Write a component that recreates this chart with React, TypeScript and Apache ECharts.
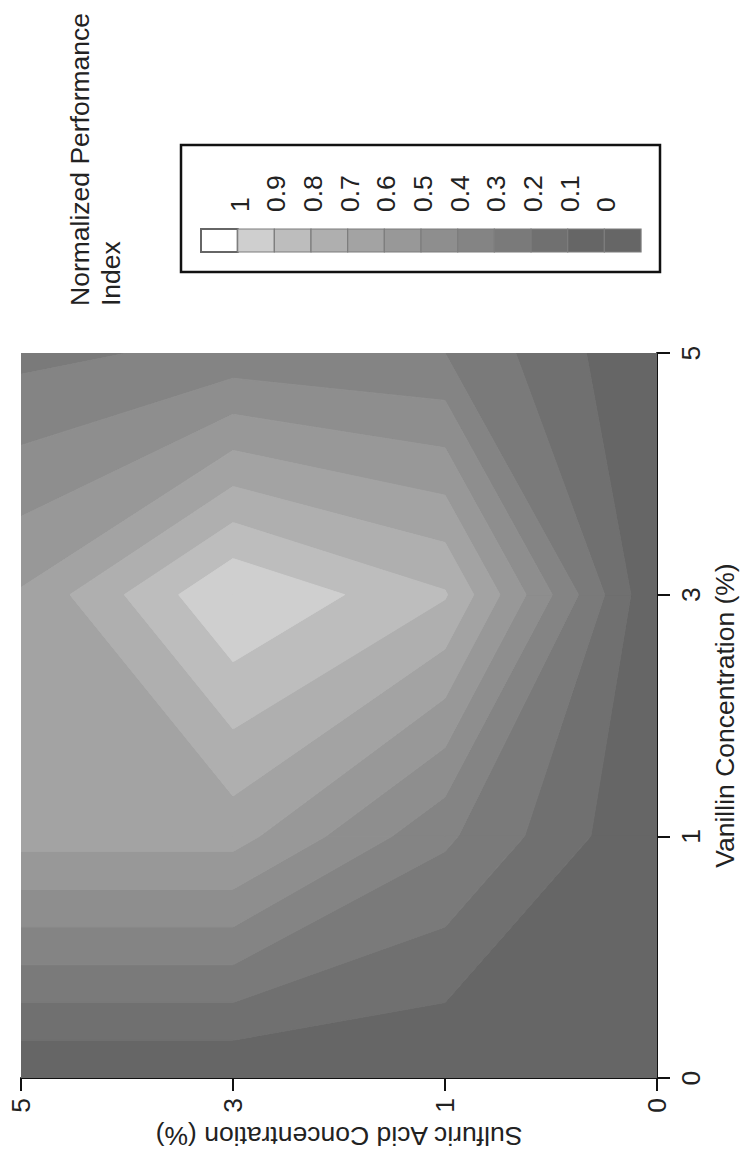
import React, { useEffect, useRef } from "react";
import * as echarts from "echarts";

// Axis tick labels (category levels, equally spaced on the chart)
const sulfuricTicks = ["0", "1", "3", "5"];
const vanillinTicks = ["0", "1", "3", "5"];

// Normalized performance index, one row per vanillin level,
// values ordered by sulfuric acid level 0, 1, 3, 5 %
const perfVanillin0 = [0.0, 0.0, 0.0, 0.0];
const perfVanillin1 = [0.0, 0.32, 0.64, 0.64];
const perfVanillin3 = [0.0, 0.81, 1.0, 0.61];
const perfVanillin5 = [0.0, 0.3, 0.33, 0.27];

// Contour levels and band shades (band k = [level k, level k+1))
const contourLevels = [0, 0.1, 0.2, 0.3, 0.4, 0.5, 0.6, 0.7, 0.8, 0.9, 1.0];
const bandColors = [
  "#666666",
  "#707070",
  "#7a7a7a",
  "#848484",
  "#8e8e8e",
  "#989898",
  "#a3a3a3",
  "#afafaf",
  "#bdbdbd",
  "#cfcfcf",
  "#ffffff",
];
const legendLabels = ["1", "0.9", "0.8", "0.7", "0.6", "0.5", "0.4", "0.3", "0.2", "0.1", "0"];

const FONT = "'Liberation Sans', Arial, Helvetica, sans-serif";
const FS = 26.5;

type P = [number, number, number];

function clip(poly: P[], level: number, keepAbove: boolean): P[] {
  const out: P[] = [];
  const inside = (p: P) => (keepAbove ? p[2] >= level : p[2] <= level);
  for (let k = 0; k < poly.length; k++) {
    const a = poly[k];
    const b = poly[(k + 1) % poly.length];
    const ia = inside(a);
    const ib = inside(b);
    if (ia) out.push(a);
    if (ia !== ib) {
      const t = (level - a[2]) / (b[2] - a[2]);
      out.push([a[0] + t * (b[0] - a[0]), a[1] + t * (b[1] - a[1]), level]);
    }
  }
  return out;
}

function area(pts: P[]): number {
  let s = 0;
  for (let k = 0; k < pts.length; k++) {
    const a = pts[k];
    const b = pts[(k + 1) % pts.length];
    s += a[0] * b[1] - b[0] * a[1];
  }
  return Math.abs(s / 2);
}

function buildBands() {
  const grid = [perfVanillin0, perfVanillin1, perfVanillin3, perfVanillin5];
  const polys: { band: number; pts: number[][]; cx: number; cy: number }[] = [];
  const nb = bandColors.length;
  for (let j = 0; j < grid.length - 1; j++) {
    for (let i = 0; i < grid[0].length - 1; i++) {
      const cell: P[] = [
        [i, j, grid[j][i]],
        [i + 1, j, grid[j][i + 1]],
        [i + 1, j + 1, grid[j + 1][i + 1]],
        [i, j + 1, grid[j + 1][i]],
      ];
      for (let b = 0; b < nb; b++) {
        let poly = cell;
        const lo = b === 0 ? -Infinity : contourLevels[b];
        const hi = b === nb - 1 ? Infinity : contourLevels[b + 1];
        if (lo !== -Infinity) poly = clip(poly, lo, true);
        if (hi !== Infinity && poly.length) poly = clip(poly, hi, false);
        if (poly.length >= 3 && area(poly) > 1e-6) {
          polys.push({ band: b, pts: poly.map((p) => [p[0], p[1]]), cx: i + 0.5, cy: j + 0.5 });
        }
      }
    }
  }
  return polys;
}

export default function App() {
  const ref = useRef<HTMLDivElement>(null);

  useEffect(() => {
    if (!ref.current) return;
    const chart = echarts.init(ref.current, null, { renderer: "svg" });
    const polys = buildBands();

    // legend layout
    const lgX = 201;
    const lgY = 229;
    const swW = 36.67;
    const swH = 23;
    const swatchColors = ["#ffffff"];
    for (let b = bandColors.length - 2; b >= 0; b--) swatchColors.push(bandColors[b]);
    swatchColors.push(bandColors[0]);

    const graphics: any[] = [];
    graphics.push({
      type: "rect",
      shape: { x: 181, y: 145, width: 479, height: 127 },
      style: { fill: "none", stroke: "#111", lineWidth: 2.5 },
    });
    swatchColors.forEach((c, k) => {
      graphics.push({
        type: "rect",
        shape: { x: lgX + k * swW, y: lgY, width: swW, height: swH },
        style: { fill: c, stroke: k === 0 ? "#666" : "#7d7d7d", lineWidth: k === 0 ? 2 : 1.2 },
      });
    });
    legendLabels.forEach((t, k) => {
      graphics.push({
        type: "text",
        x: lgX + (k + 1) * swW + 2,
        y: 212,
        rotation: Math.PI / 2,
        style: {
          text: t,
          align: "left",
          verticalAlign: "middle",
          fontSize: FS,
          fontFamily: FONT,
          fill: "#222",
        },
      });
    });
    graphics.push({
      type: "text",
      x: 80,
      y: 306,
      rotation: Math.PI / 2,
      style: { text: "Normalized Performance", align: "left", verticalAlign: "middle", fontSize: FS, fontFamily: FONT, fill: "#222" },
    });
    graphics.push({
      type: "text",
      x: 111,
      y: 306,
      rotation: Math.PI / 2,
      style: { text: "Index", align: "left", verticalAlign: "middle", fontSize: FS, fontFamily: FONT, fill: "#222" },
    });

    const axisCommon = {
      type: "value",
      min: 0,
      max: 3,
      interval: 1,
      splitLine: { show: false },
      axisLine: { show: true, onZero: false, lineStyle: { color: "#111", width: 2 } },
      axisTick: { show: true, length: 13, lineStyle: { color: "#111", width: 2 } },
    };

    chart.setOption({
      animation: false,
      backgroundColor: "#ffffff",
      grid: { left: 21, right: 87, top: 353, bottom: 76, containLabel: false, outerBoundsMode: "none" },
      xAxis: {
        ...axisCommon,
        inverse: true,
        position: "bottom",
        axisLabel: {
          rotate: 90,
          margin: 20,
          fontSize: FS,
          fontFamily: FONT,
          color: "#222",
          showMinLabel: true,
          showMaxLabel: true,
          formatter: (v: number) => sulfuricTicks[Math.round(v)],
        },
        name: "Sulfuric Acid Concentration (%)",
        nameLocation: "middle",
        nameRotate: 180,
        nameGap: 44,
        nameTextStyle: { fontSize: FS, fontFamily: FONT, color: "#222" },
      },
      yAxis: {
        ...axisCommon,
        position: "right",
        axisLabel: {
          rotate: 90,
          margin: 20,
          fontSize: FS,
          fontFamily: FONT,
          color: "#222",
          showMinLabel: true,
          showMaxLabel: true,
          formatter: (v: number) => vanillinTicks[Math.round(v)],
        },
        name: "Vanillin Concentration (%)",
        nameLocation: "middle",
        nameRotate: 90,
        nameGap: 54,
        nameTextStyle: { fontSize: FS, fontFamily: FONT, color: "#222" },
      },
      series: [
        {
          type: "custom",
          coordinateSystem: "cartesian2d",
          clip: true,
          silent: true,
          encode: { x: 0, y: 1 },
          data: polys.map((p, idx) => [p.cx, p.cy, idx]),
          renderItem: (params: any, api: any) => {
            const p = polys[params.dataIndex];
            const pts = p.pts.map((q) => api.coord([q[0], q[1]]));
            const c = bandColors[p.band];
            return {
              type: "polygon",
              shape: { points: pts },
              style: { fill: c, stroke: c, lineWidth: 1 },
            };
          },
        },
      ],
      graphic: graphics,
    });

    return () => chart.dispose();
  }, []);

  return (
    <div
      ref={ref}
      style={{ position: "absolute", left: 0, top: 0, width: 744, height: 1154, background: "#fff" }}
    />
  );
}
